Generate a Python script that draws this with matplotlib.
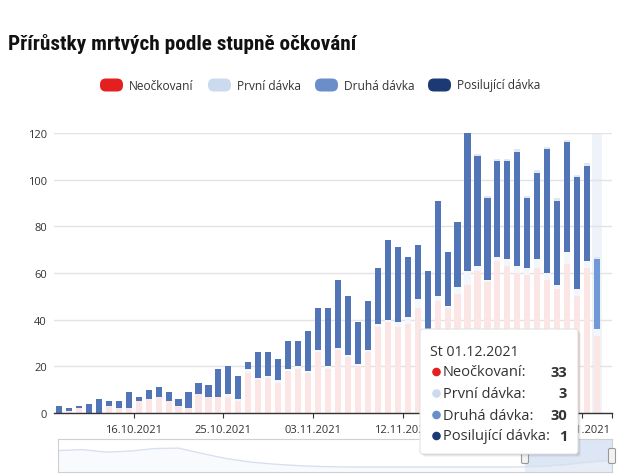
import matplotlib
matplotlib.use("Agg")
import matplotlib.pyplot as plt
import matplotlib.dates as mdates
import matplotlib.transforms as mtransforms
from matplotlib.patches import FancyBboxPatch, Circle
from matplotlib import font_manager as fm
import numpy as np
import pandas as pd

# ---------------- data ----------------
title = "Přírůstky mrtvých podle stupně očkování"
series_names = ["Neočkovaní", "První dávka", "Druhá dávka", "Posilující dávka"]
dates = pd.date_range("2021-10-08", "2021-12-01", freq="D")

neockovani = [0, 1, 2, 0, 0, 3, 2, 2, 5, 6,
              7, 5, 3, 2, 8, 7, 7, 7, 5, 17,
              14, 15, 13, 18, 19, 17, 26, 19, 27, 24,
              20, 26, 37, 39, 37, 38, 45, 32, 48, 45,
              51, 55, 61, 56, 65, 63, 60, 59, 62, 57,
              53, 64, 50, 62, 33]
prvni = [0, 0, 0, 0, 0, 0, 0, 0, 0, 0,
         0, 0, 0, 0, 0, 0, 0, 1, 1, 2,
         1, 1, 1, 1, 1, 1, 1, 1, 1, 1,
         1, 1, 1, 1, 2, 3, 4, 2, 2, 1,
         3, 6, 2, 1, 2, 3, 3, 3, 4, 3,
         2, 5, 3, 3, 3]
druha = [3, 1, 1, 4, 6, 2, 3, 7, 2, 4,
         4, 4, 3, 7, 5, 5, 12, 12, 10, 3,
         11, 10, 9, 12, 11, 17, 18, 25, 29, 25,
         18, 21, 24, 34, 32, 26, 23, 27, 41, 23,
         28, 59, 47, 35, 41, 42, 49, 30, 37, 53,
         36, 47, 48, 41, 30]
posilujici = [0, 0, 0, 0, 0, 0, 0, 0, 0, 0,
              0, 0, 0, 0, 0, 0, 0, 0, 0, 0,
              0, 0, 0, 0, 0, 0, 0, 0, 0, 0,
              0, 0, 0, 0, 0, 0, 0, 0, 0, 0,
              0, 0, 1, 1, 1, 1, 1, 1, 1, 1,
              1, 1, 1, 1, 1]

y_ticks = [0, 20, 40, 60, 80, 100, 120]
x_tick_dates = ["2021-10-16", "2021-10-25", "2021-11-03", "2021-11-12",
                "2021-11-21", "2021-11-30"]
tooltip_title = "St 01.12.2021"

# navigator overview series (relative heights)
nav_values = [21, 22, 19.5, 20.5, 23, 23.5, 18, 13, 9.5, 7.4, 5.9, 5.0,
              4.6, 4.6, 4.6, 4.6, 4.6, 4.6, 4.6, 4.6, 5.2, 6.8, 9.5, 11.3]

# ---------------- style ----------------
legend_colors = ["#e3201f", "#ccdaf0", "#6b8ecb", "#1b3a73"]
bar_colors = ["#fce5e5", "#f3f6fb", "#5275b7", "#e2e7ef"]   # hover state (others faded)
hover_colors = ["#fce5e5", "#f3f6fb", "#7199d7", "#e2e7ef"]

W, H, DPI = 628, 477, 100
BASE = "Open Sans"
plt.rcParams["font.family"] = [BASE, "DejaVu Sans"]

fig = plt.figure(figsize=(W / DPI, H / DPI), dpi=DPI)
fig.patch.set_facecolor("white")
# pixel transform with origin top-left
tpx = mtransforms.Affine2D().scale(1 / DPI, -1 / DPI).translate(0, H / DPI) + fig.dpi_scale_trans

# ---------------- main axes ----------------
ax = fig.add_axes([54 / W, 1 - 414 / H, (612 - 54) / W, 280 / H])
xd = mdates.date2num(dates.to_pydatetime()) + 0.5
x_start = mdates.date2num(dates[0].to_pydatetime())
ax.set_xlim(x_start, x_start + 56)
ax.set_ylim(0, 120)

hover = len(dates) - 1
ax.axvspan(xd[hover] - 0.5, xd[hover] + 0.5, color="#eef2f9", zorder=0.5, lw=0)

series = [neockovani, prvni, druha, posilujici]
bottom = np.zeros(len(dates))
for k, vals in enumerate(series):
    vals = np.asarray(vals, dtype=float)
    cols = [hover_colors[k] if i == hover else bar_colors[k] for i in range(len(dates))]
    ax.bar(xd, vals, width=0.62, bottom=bottom, color=cols, linewidth=0, zorder=2)
    bottom += vals

ax.set_yticks(y_ticks)
ax.yaxis.grid(True, color="#e3e3e3", lw=1)
ax.set_axisbelow(True)
for s in ["top", "right", "left"]:
    ax.spines[s].set_visible(False)
ax.spines["bottom"].set_color("#333333")
ax.spines["bottom"].set_linewidth(1)
ax.spines["bottom"].set_zorder(3)

tick_nums = list(mdates.date2num(pd.to_datetime(x_tick_dates).to_pydatetime()))
ax.set_xticks(tick_nums + [x_start + 56])
ax.set_xticklabels([pd.Timestamp(d).strftime("%d.%m.%Y") for d in x_tick_dates] + [""])
ax.tick_params(axis="x", length=3.6, width=0.8, color="#333333", pad=4.3,
               labelsize=8, labelcolor="#333333")
ax.tick_params(axis="y", length=0, pad=5, labelsize=8, labelcolor="#333333")

# tooltip rectangle (pixels, top-left origin)
TIP_X, TIP_Y, TIP_W, TIP_H = 420, 330, 158, 125
TIP_R = TIP_X + TIP_W

# tick labels lying partly under the tooltip are clipped to their visible part
fig.canvas.draw()
renderer = fig.canvas.get_renderer()
ident = mtransforms.IdentityTransform()
for lab in ax.get_xticklabels():
    if not lab.get_text():
        continue
    bb = lab.get_window_extent(renderer)
    if bb.x0 >= TIP_X and bb.x1 <= TIP_R:
        lab.set_visible(False)          # fully covered by the tooltip
    elif bb.x0 < TIP_X < bb.x1:
        lab.set_clip_box(mtransforms.TransformedBbox(
            mtransforms.Bbox.from_extents(0, 0, TIP_X, H), ident))
        lab.set_clip_on(True)
    elif bb.x0 < TIP_R < bb.x1:
        lab.set_clip_box(mtransforms.TransformedBbox(
            mtransforms.Bbox.from_extents(TIP_R, 0, W, H), ident))
        lab.set_clip_on(True)

# ---------------- title ----------------
names = {f.name for f in fm.fontManager.ttflist}
title_family = None
for cand in ["Roboto Condensed", "Liberation Sans Narrow", "Noto Sans Condensed",
             "DejaVu Sans Condensed", "Open Sans Condensed", "Arial Narrow"]:
    if cand in names:
        title_family = cand
        break
tkw = dict(fontweight="bold")
if title_family:
    tkw["family"] = [title_family, "DejaVu Sans"]
else:
    tkw["family"] = ["DejaVu Sans"]
    tkw["fontstretch"] = "condensed"
t = fig.text(8, 50, title, transform=tpx, ha="left", va="baseline",
             fontsize=14, color="#111111", **tkw)
bb = t.get_window_extent(renderer)
t.set_fontsize(14 * 349 / bb.width)

# ---------------- legend ----------------
legend_x = [100, 208, 315, 428]
for lx, name, col in zip(legend_x, series_names, legend_colors):
    sym = FancyBboxPatch((lx, 79.5), 23, 13, boxstyle="round,pad=0,rounding_size=6",
                         transform=tpx, fc=col, ec="none")
    fig.patches.append(sym)
    fig.text(lx + 29, 86, name, transform=tpx, ha="left", va="center",
             fontsize=8.6, color="#333333")

# ---------------- navigator ----------------
nav = fig.add_axes([58 / W, 1 - 472.6 / H, (612 - 58) / W, 32.6 / H])
nx = np.linspace(0, 1, len(nav_values))
sel_start = (525 - 58) / (612 - 58)
nav.axvspan(sel_start, 1, color="#dde6f5", lw=0, zorder=0)
nav.fill_between(nx, nav_values, 0, color="#f3f6fb", alpha=0.45, lw=0, zorder=1)
nav.plot(nx, nav_values, color="#d8e0ef", lw=1, zorder=2)
nav.set_xlim(0, 1)
nav.set_ylim(0, 32.6)
nav.set_xticks([])
nav.set_yticks([])
for s in nav.spines.values():
    s.set_color("#d0d0d0")
    s.set_linewidth(0.8)
for hx in [525, 612]:
    hb = FancyBboxPatch((hx - 3.5, 449.5), 7, 15, boxstyle="round,pad=0,rounding_size=1.5",
                        transform=tpx, fc="#f2f2f2", ec="#999999", lw=0.8, zorder=5)
    fig.patches.append(hb)

# ---------------- tooltip ----------------
for off, a in [(3, 0.04), (2, 0.06), (1, 0.09)]:
    sh = FancyBboxPatch((TIP_X + off, TIP_Y + off), TIP_W, TIP_H,
                        boxstyle="round,pad=0,rounding_size=3",
                        transform=tpx, fc="black", ec="none", alpha=a, zorder=9)
    fig.patches.append(sh)
tip = FancyBboxPatch((TIP_X, TIP_Y), TIP_W, TIP_H, boxstyle="round,pad=0,rounding_size=3",
                     transform=tpx, fc="white", ec="#e2e2e2", lw=0.8, zorder=10)
fig.patches.append(tip)
fig.text(430.5, 352, tooltip_title, transform=tpx, ha="left", va="center",
         fontsize=10.2, color="#333333", zorder=11)
row_y = [373, 394.5, 416, 437]
for k, (name, col) in enumerate(zip(series_names, legend_colors)):
    yy = row_y[k]
    dot = Circle((436.5, yy), 4.3, transform=tpx, fc=col, ec="none", zorder=11)
    fig.patches.append(dot)
    fig.text(443, yy, name + ":", transform=tpx, ha="left", va="center",
             fontsize=10.5, color="#333333", zorder=11)
    fig.text(567, yy, str(series[k][hover]), transform=tpx, ha="right", va="center",
             fontsize=10.5, fontweight="bold", color="#333333", zorder=11)

fig.savefig("out.png", dpi=DPI, facecolor="white")
